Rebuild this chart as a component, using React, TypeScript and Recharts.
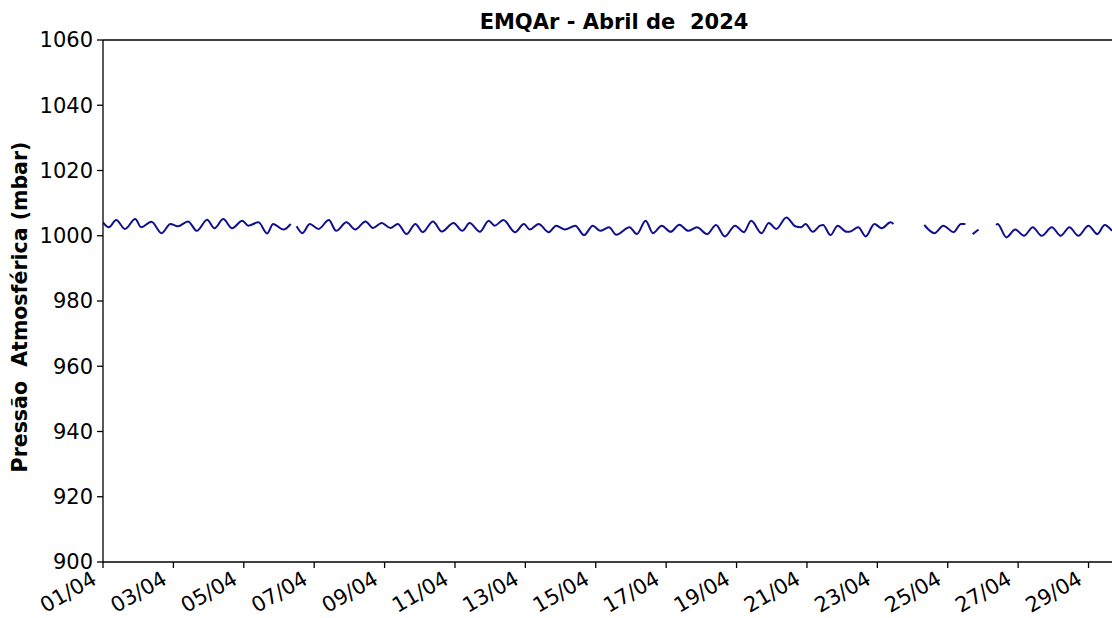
import { LineChart, Line, XAxis, YAxis, ReferenceLine } from "recharts"

// horas desde 01/04 00:00 e pressão (mbar); null = falha nos dados
const horas = [
  0, 4, 9, 15, 22, 26, 33, 40, 46, 51, 58, 64, 71, 76, 82, 88, 95, 99, 106, 112,
  116, 123, 128, 130, 132, 136, 141, 147, 154, 159, 166, 172, 179, 184, 190, 196, 201, 207, 213, 218,
  225, 231, 239, 245, 250, 257, 263, 267, 273, 281, 287, 291, 297, 304, 309, 315, 322, 328, 334, 339,
  345, 350, 359, 364, 370, 375, 381, 387, 393, 399, 405, 412, 418, 424, 431, 437, 442, 449, 454, 459,
  466, 472, 476, 479, 484, 489, 491, 496, 501, 507, 509, 515, 520, 526, 531, 537, 539, 548, 560, 567,
  573, 580, 585, 588, 590, 593, 597, 603, 609, 610, 616, 622, 628, 634, 640, 647, 653, 659, 665, 672,
  678, 683, 688,
]

const pressao: (number | null)[] = [
  1004.1, 1002.6, 1004.8, 1002.1, 1005.1, 1002.6, 1004.3, 1000.8, 1003.6, 1002.9, 1004.4, 1001.5, 1004.9, 1002.3, 1005.1, 1002.3, 1004.6, 1003.1, 1004.1, 1000.7,
  1003.6, 1001.9, 1003.6, null, 1002.9, 1000.8, 1003.6, 1002.1, 1004.8, 1001.5, 1004.1, 1001.9, 1004.4, 1002.4, 1003.9, 1002.4, 1003.6, 1000.5, 1003.6, 1001.1,
  1004.4, 1001.3, 1003.9, 1001.5, 1003.9, 1001.2, 1004.6, 1003.1, 1004.8, 1001.1, 1003.6, 1001.9, 1003.6, 1001.1, 1003.1, 1001.9, 1003.1, 1000.2, 1003.1, 1001.5,
  1002.6, 1000.3, 1002.6, 1000.5, 1004.6, 1000.8, 1003.1, 1001.2, 1003.4, 1001.5, 1002.6, 1000.5, 1003.3, 999.8, 1003.1, 1001.1, 1004.6, 1000.8, 1003.9, 1002.1,
  1005.6, 1002.9, 1002.6, 1003.6, 1001.2, 1003.1, 1003.3, 1000.2, 1003.1, 1001.2, 1001.2, 1002.6, 999.8, 1003.6, 1002.3, 1004.1, 1003.6, null, 1003.3, 1000.8,
  1003.1, 1001.1, 1003.6, 1003.6, null, 1000.5, 1001.9, null, 1003.3, 1003.6, 999.5, 1001.9, 1000.0, 1002.6, 1000.0, 1002.6, 1000.0, 1002.6, 1000.0, 1003.1,
  1000.5, 1003.3, 1001.5,
]

const diasTicks = ["01/04", "03/04", "05/04", "07/04", "09/04", "11/04", "13/04", "15/04",
  "17/04", "19/04", "21/04", "23/04", "25/04", "27/04", "29/04"]
const yTicks = [900, 920, 940, 960, 980, 1000, 1020, 1040, 1060]

const data = horas.map((h, i) => ({ h, p: pressao[i] }))
const xTicks = diasTicks.map((_, i) => i * 48)

const fonte = "DejaVu Sans, Verdana, sans-serif"

function DiaTick(props: any) {
  const { x, y, payload } = props
  const ax = x - 5
  const ay = y + 13
  return (
    <text x={ax} y={ay} textAnchor="end" fontSize={21} fontFamily={fonte} fill="#000"
      transform={`rotate(-30, ${ax}, ${ay})`}>
      {diasTicks[Math.round(payload.value / 48)]}
    </text>
  )
}

export default function App() {
  return (
    <div style={{ position: "absolute", left: 0, top: 0, width: 1112, height: 618, background: "#fff", overflow: "hidden" }}>
      <LineChart width={1112} height={618} data={data} margin={{ top: 40, right: 0, bottom: 0, left: 43 }}>
        <XAxis
          dataKey="h"
          type="number"
          domain={[0, 688]}
          allowDataOverflow
          ticks={xTicks}
          tick={<DiaTick />}
          tickSize={6}
          height={56}
          interval={0}
          stroke="#000"
          strokeWidth={1.3}
        />
        <YAxis
          domain={[900, 1060]}
          ticks={yTicks}
          width={60}
          tickSize={6}
          tickMargin={4}
          interval={0}
          stroke="#000"
          strokeWidth={1.3}
          tick={{ fontSize: 21, fontFamily: fonte, fill: "#000" }}
        />
        <ReferenceLine y={1060} stroke="#000" strokeWidth={1.3} />
        <Line
          type="monotone"
          dataKey="p"
          stroke="#10108f"
          strokeWidth={2}
          dot={false}
          connectNulls={false}
          isAnimationActive={false}
        />
      </LineChart>
      <div style={{ position: "absolute", left: 414, width: 400, top: 10, textAlign: "center", fontFamily: fonte, fontWeight: "bold", fontSize: 21, whiteSpace: "pre", color: "#000" }}>
        EMQAr - Abril de  2024
      </div>
      <svg style={{ position: "absolute", left: 0, top: 0 }} width={40} height={618}>
        <text x={27} y={307} transform="rotate(-90, 27, 307)" textAnchor="middle" fontFamily={fonte}
          fontWeight="bold" fontSize={20.5} fill="#000" style={{ whiteSpace: "pre" }}>
          {"Pressão  Atmosférica (mbar)"}
        </text>
      </svg>
    </div>
  )
}
